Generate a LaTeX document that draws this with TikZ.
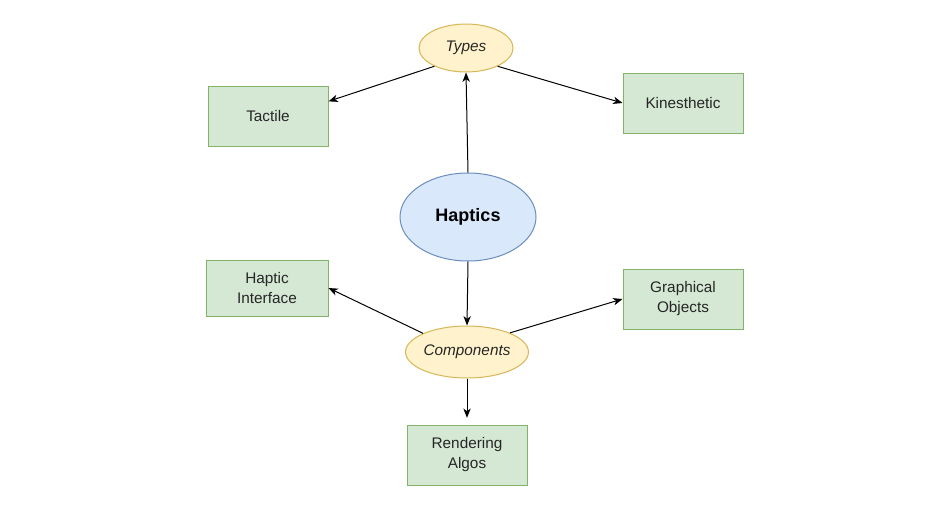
\documentclass[tikz,border=0pt]{standalone}
\usepackage{fontspec}
\setmainfont{Liberation Sans}
\usetikzlibrary{arrows.meta,shapes.geometric}
\definecolor{leaffill}{HTML}{D5E8D4}
\definecolor{leafline}{HTML}{82B366}
\definecolor{kindfill}{HTML}{FFF2CC}
\definecolor{kindline}{HTML}{D6B656}
\definecolor{topicfill}{HTML}{DAE8FC}
\definecolor{topicline}{HTML}{6C8EBF}
\begin{document}
\begin{tikzpicture}
[x=0.75pt,y=-0.75pt,
 font=\fontsize{11.5}{15}\selectfont,
 leaf/.style={draw=leafline,fill=leaffill,line width=0.75pt,align=center,
   minimum width=90pt,minimum height=45pt,inner sep=0pt,text=black!85},
 kind/.style={ellipse,draw=kindline,fill=kindfill,line width=0.75pt,inner sep=0pt,
   text=black!85,font=\fontsize{11.5}{15}\selectfont\itshape},
 topic/.style={ellipse,draw=topicline,fill=topicfill,line width=0.75pt,inner sep=0pt,
   minimum width=102pt,minimum height=66pt,font=\fontsize{13.5}{16}\selectfont\bfseries},
 link/.style={-{Stealth[length=7pt,width=5.5pt,inset=2pt]},line width=0.75pt}]
\useasboundingbox (0,0) rectangle (932,518);
% centre and its two groups
\node[topic] (haptics) at (468,217) {Haptics};
\node[kind,minimum width=70.5pt,minimum height=36pt] (types) at (466,48) {Types};
\node[kind,minimum width=91.5pt,minimum height=39pt] (comp) at (467,352) {Components};
% leaves
\node[leaf] (tactile) at (268,116) {Tactile};
\node[leaf] (kines) at (683,103) {Kinesthetic};
\node[leaf,minimum width=91.5pt,minimum height=42pt] (interface) at (267,288) {Haptic\\Interface};
\node[leaf] (graph) at (683,299) {Graphical\\Objects};
\node[leaf] (render) at (467,455) {Rendering\\Algos};

\draw[link] (haptics.north) -- (types.south);
\draw[link] (types.210) -- ([yshift=11pt]tactile.east);
\draw[link] (types.-30) -- (kines.west);
\draw[link] (haptics.south) -- (comp.north);
\draw[link] (comp.157) -- (interface.east);
\draw[link] (comp.24) -- (graph.west);
\draw[link,shorten >=5pt] (comp.south) -- (render.north);
\end{tikzpicture}
\end{document}
